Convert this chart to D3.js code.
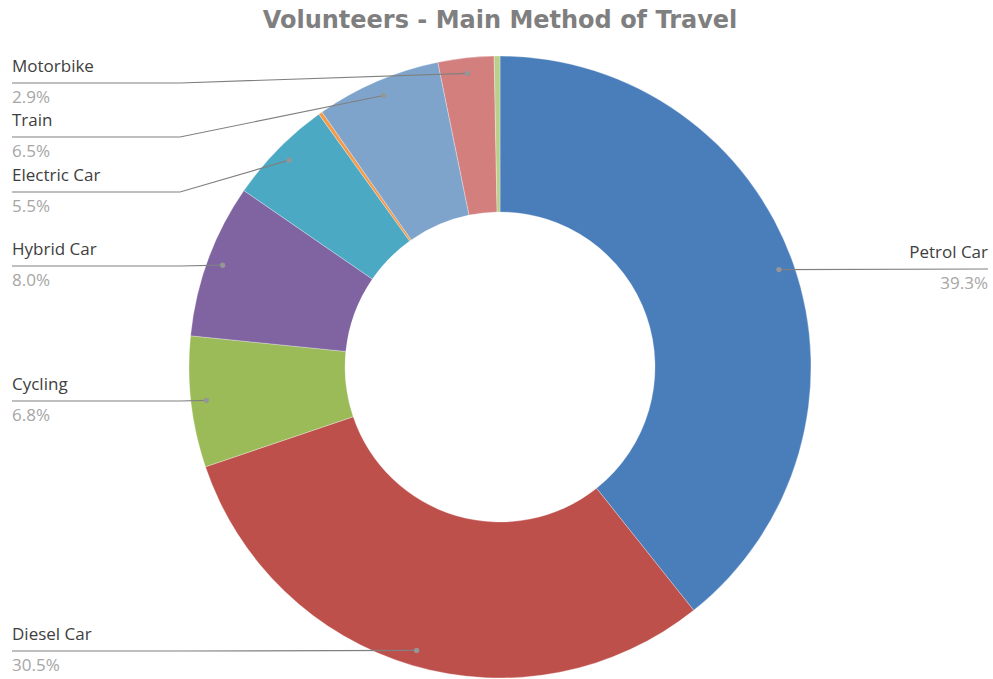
<!DOCTYPE html>
<html>
<head>
<meta charset="utf-8">
<script src="https://cdn.jsdelivr.net/npm/d3@7"></script>
<style>
  body { margin: 0; background: #fff; }
  svg { display: block; }
</style>
</head>
<body>
<div id="chart"></div>
<script>
// data, clockwise from 12 o'clock
var categories = ["Petrol Car", "Diesel Car", "Cycling", "Hybrid Car", "Electric Car", "Other", "Train", "Motorbike", "Walking"];
var shares = [39.3, 30.5, 6.8, 8.0, 5.5, 0.2, 6.5, 2.9, 0.3];
var showLabel = [true, true, true, true, true, false, true, true, false];
var colours = ["#4a7ebb", "#be504c", "#9bbb59", "#7f64a1", "#4ba9c3", "#f59a4a", "#7fa4cc", "#d27f7e", "#bacf8b"];

// where each leader line ends up (y of the horizontal part), layout only
var leaderY = [269, 651, 401, 266, 192, null, 137, 83, null];

var width = 993, height = 679;
var cx = 500, cy = 367, outerR = 311, innerR = 155;

var svg = d3.select("#chart").append("svg")
    .attr("width", width)
    .attr("height", height);

svg.append("text")
    .attr("x", cx)
    .attr("y", 28)
    .attr("text-anchor", "middle")
    .attr("fill", "#7f7f7f")
    .style("font-family", "'DejaVu Sans', sans-serif")
    .style("font-weight", "bold")
    .style("font-size", "24px")
    .text("Volunteers - Main Method of Travel");

var pie = d3.pie().sort(null).value(function(d) { return d; });
var arcs = pie(shares);

var arc = d3.arc().innerRadius(innerR).outerRadius(outerR);
var dotArc = d3.arc().innerRadius(outerR * 0.95).outerRadius(outerR * 0.95);

var g = svg.append("g").attr("transform", "translate(" + cx + "," + cy + ")");

g.selectAll("path.slice")
    .data(arcs)
    .enter().append("path")
    .attr("class", "slice")
    .attr("d", arc)
    .attr("fill", function(d, i) { return colours[i]; })
    .attr("stroke", "#fff")
    .attr("stroke-width", 0.3);

var labels = svg.append("g");

arcs.forEach(function(d, i) {
    if (!showLabel[i]) return;
    var c = dotArc.centroid(d);
    var px = cx + c[0], py = cy + c[1];
    var ly = leaderY[i];
    var right = px > cx;
    var pts;
    if (right) {
        pts = [[px, py], [988, ly]];
    } else {
        pts = [[12, ly], [180, ly], [px, py]];
    }
    labels.append("path")
        .attr("d", d3.line()(pts))
        .attr("fill", "none")
        .attr("stroke", "#808080")
        .attr("stroke-width", 1.2);
    labels.append("circle")
        .attr("cx", px).attr("cy", py).attr("r", 2.6)
        .attr("fill", "#969696");

    var tx = right ? 988 : 12;
    var anchor = right ? "end" : "start";
    labels.append("text")
        .attr("x", tx).attr("y", ly - 11)
        .attr("text-anchor", anchor)
        .attr("fill", "#404040")
        .style("font-family", "'Open Sans', sans-serif")
        .style("font-size", "17px")
        .text(categories[i]);
    labels.append("text")
        .attr("x", tx).attr("y", ly + 20)
        .attr("text-anchor", anchor)
        .attr("fill", "#a6a6a6")
        .style("font-family", "'Open Sans', sans-serif")
        .style("font-size", "17px")
        .text(d3.format(".1f")(shares[i]) + "%");
});
</script>
</body>
</html>
